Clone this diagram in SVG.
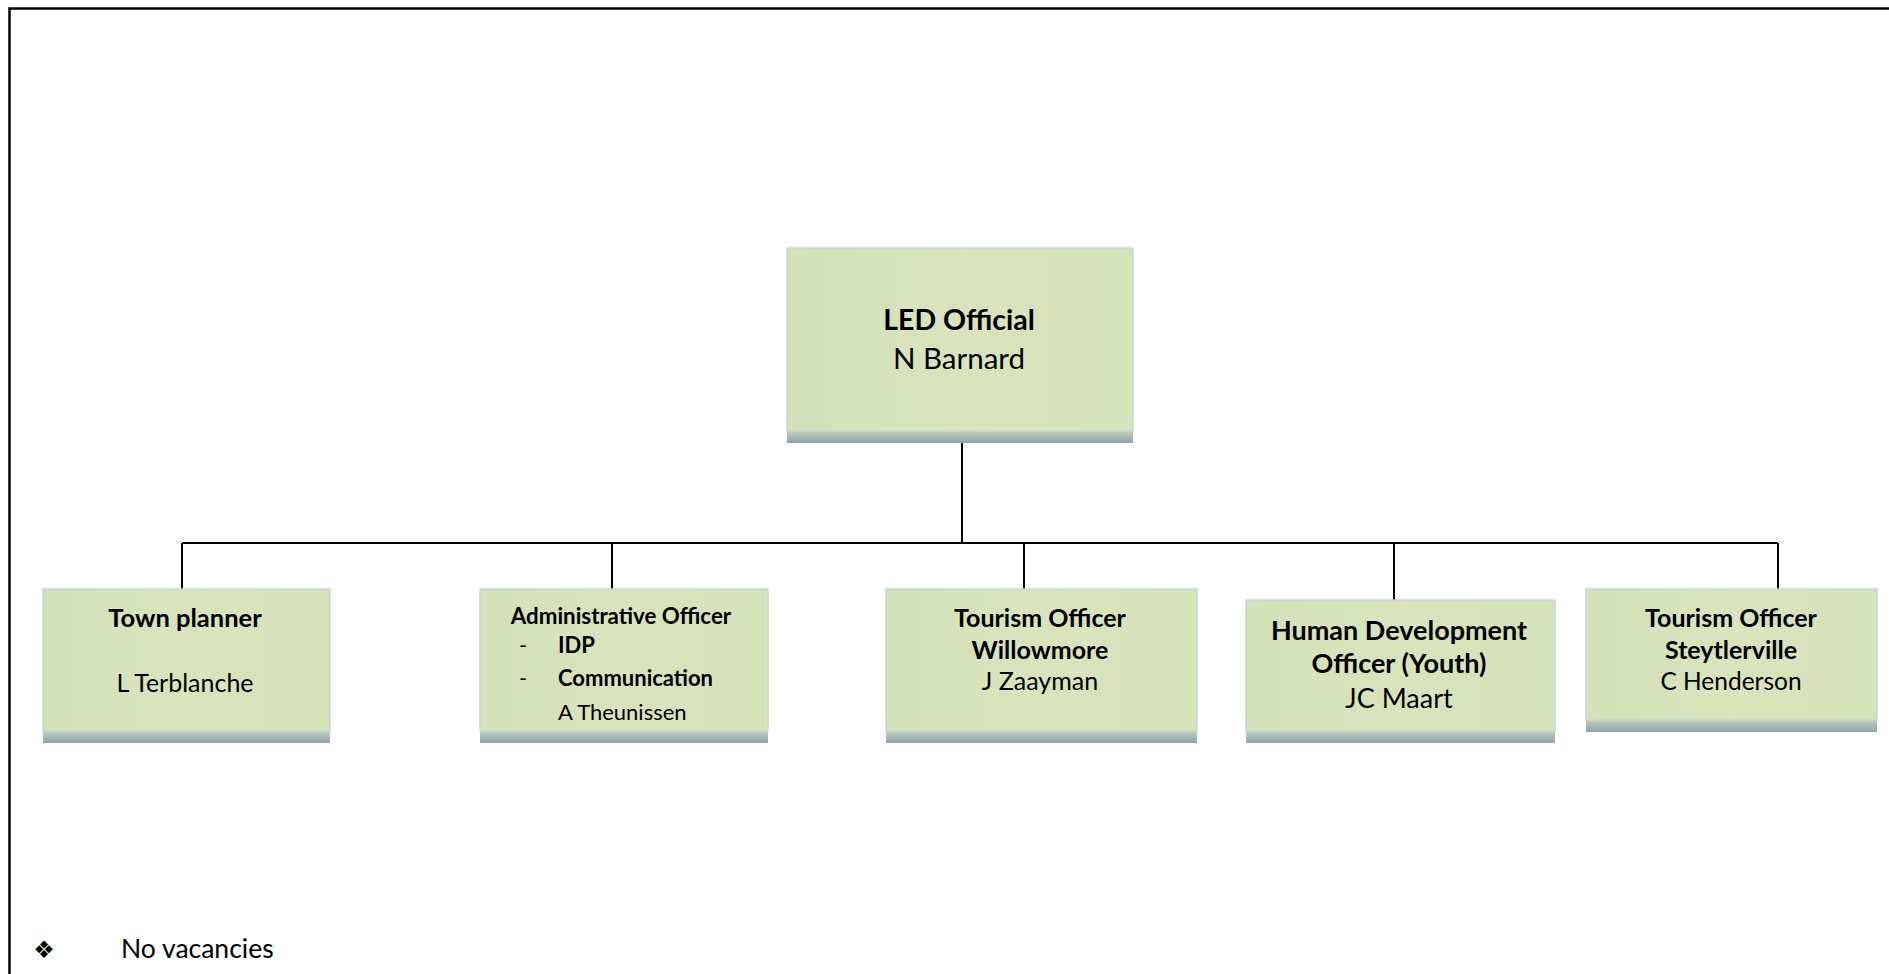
<svg xmlns="http://www.w3.org/2000/svg" width="1889" height="974" viewBox="0 0 1889 974">
<defs>
<linearGradient id="fillG" x1="0" y1="0" x2="1" y2="0">
<stop offset="0" stop-color="#d3e1b8"/>
<stop offset="0.5" stop-color="#d9e4bd"/>
<stop offset="1" stop-color="#d6e2ba"/>
</linearGradient>
<linearGradient id="shadG" x1="0" y1="0" x2="0" y2="1">
<stop offset="0" stop-color="#cbd9b8"/>
<stop offset="0.45" stop-color="#aebfb6"/>
<stop offset="1" stop-color="#8ea3ad"/>
</linearGradient>
<style>
.box{fill:url(#fillG);stroke:#c3d7d6;stroke-width:1.5}
.shad{fill:url(#shadG)}
.t{font-family:Lato,"Liberation Sans",sans-serif;fill:#000;text-anchor:middle}
.s{text-anchor:start}
.b{font-weight:bold}
.ln{stroke:#000;stroke-width:2;fill:none}
</style>
</defs>
<rect width="1889" height="974" fill="#fff"/>
<path d="M9.5 974 V8.5 H1889" fill="none" stroke="#000" stroke-width="2.5"/>

<g id="connectors">
<path class="ln" d="M962 440 V543"/>
<path class="ln" d="M182 543 H1778"/>
<path class="ln" d="M182 543 V589"/>
<path class="ln" d="M612 543 V589"/>
<path class="ln" d="M1024 543 V589"/>
<path class="ln" d="M1394 543 V600"/>
<path class="ln" d="M1778 543 V589"/>
</g>

<g id="led-official">
<rect class="shad" x="787" y="429" width="346" height="14"/>
<rect class="box" x="787" y="248" width="346" height="183"/>
<text class="t b" x="959" y="330" font-size="28.5">LED Official</text>
<text class="t" x="959" y="369" font-size="29.5">N Barnard</text>
</g>

<g id="town-planner">
<rect class="shad" x="43" y="729" width="287" height="14"/>
<rect class="box" x="43" y="589" width="287" height="142"/>
<text class="t b" x="185" y="627" font-size="25.5">Town planner</text>
<text class="t" x="185" y="692" font-size="25">L Terblanche</text>
</g>

<g id="admin-officer">
<rect class="shad" x="480" y="729" width="288" height="14"/>
<rect class="box" x="480" y="589" width="288" height="142"/>
<text class="t b" x="621" y="624" font-size="22.3">Administrative Officer</text>
<text class="t" x="523" y="653" font-size="22">-</text>
<text class="t b s" x="558" y="653" font-size="22">IDP</text>
<text class="t" x="523" y="686" font-size="22">-</text>
<text class="t b s" x="558" y="686" font-size="22">Communication</text>
<text class="t s" x="558" y="720" font-size="22">A Theunissen</text>
</g>

<g id="tourism-willowmore">
<rect class="shad" x="886" y="729" width="311" height="14"/>
<rect class="box" x="886" y="589" width="311" height="142"/>
<text class="t b" x="1040" y="627" font-size="25">Tourism Officer</text>
<text class="t b" x="1040" y="659" font-size="25">Willowmore</text>
<text class="t" x="1040" y="690" font-size="25">J Zaayman</text>
</g>

<g id="human-development">
<rect class="shad" x="1246" y="729" width="309" height="14"/>
<rect class="box" x="1246" y="600" width="309" height="131"/>
<text class="t b" x="1399" y="640" font-size="27">Human Development</text>
<text class="t b" x="1399" y="673" font-size="27">Officer (Youth)</text>
<text class="t" x="1399" y="708" font-size="27">JC Maart</text>
</g>

<g id="tourism-steytlerville">
<rect class="shad" x="1586" y="718" width="291" height="14"/>
<rect class="box" x="1586" y="589" width="291" height="131"/>
<text class="t b" x="1731" y="627" font-size="25">Tourism Officer</text>
<text class="t b" x="1731" y="659" font-size="25">Steytlerville</text>
<text class="t" x="1731" y="690" font-size="24.5">C Henderson</text>
</g>

<g id="note">
<text x="44" y="958" font-family="'DejaVu Sans',sans-serif" font-size="24" text-anchor="middle">❖</text>
<text x="121" y="958" font-family="Lato,'Liberation Sans',sans-serif" font-size="26.5">No vacancies</text>
</g>
</svg>
